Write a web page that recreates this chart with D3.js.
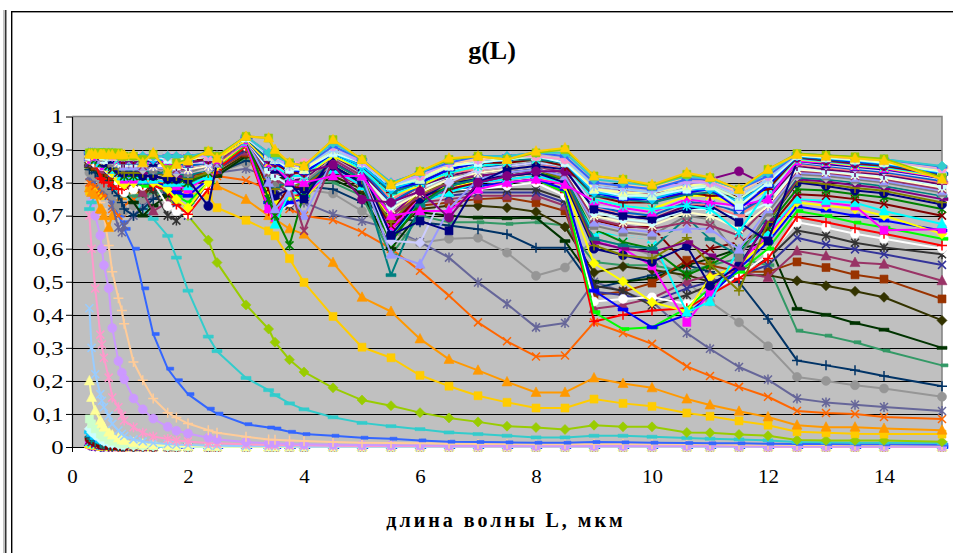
<!DOCTYPE html>
<html>
<head>
<meta charset="utf-8">
<script src="https://cdn.jsdelivr.net/npm/d3@7"></script>
<style>
  html, body { margin: 0; padding: 0; background: #fff; }
  svg { display: block; }
  text { font-family: "Liberation Serif", "Times New Roman", serif; fill: #000; }
</style>
</head>
<body>
<svg id="chart" width="953" height="553"></svg>
<script>
// Wavelengths, µm (shared by every curve)
const wavelength = [0.3,0.337,0.4,0.488,0.515,0.55,0.633,0.694,0.8,0.86,0.9,
  1.06,1.22,1.4,1.65,1.8,2.0,2.35,2.5,
  3.0,3.39,3.5,3.75,4.0,4.5,5.0,5.5,
  6.0,6.5,7.0,7.5,8.0,8.5,9.0,9.5,
  10.0,10.6,11.0,11.5,12.0,12.5,13.0,13.5,14.0,15.0];

// Asymmetry parameter g ×100 for each droplet size, smallest droplets first
const s01 = [0.5,0.3,0.2,0.1,0.1,0.1,0,0,0,0,0, 0,0,0,0,0,0,0,0, 0,0,0,0,0,0,0,0, 0,0,0,0,0,0,0,0, 0,0,0,0,0,0,0,0,0,0];
const s02 = [0.8,0.5,0.3,0.2,0.2,0.1,0.1,0.1,0,0,0, 0,0,0,0,0,0,0,0, 0,0,0,0,0,0,0,0, 0,0,0,0,0,0,0,0, 0,0,0,0,0,0,0,0,0,0];
const s03 = [1,0.7,0.5,0.3,0.2,0.2,0.1,0.1,0.1,0,0, 0,0,0,0,0,0,0,0, 0,0,0,0,0,0,0,0, 0,0,0,0,0,0,0,0, 0,0,0,0,0,0,0,0,0,0];
const s04 = [1.5,1,0.7,0.4,0.4,0.3,0.2,0.2,0.1,0.1,0.1, 0,0,0,0,0,0,0,0, 0,0,0,0,0,0,0,0, 0,0,0,0,0,0,0,0, 0,0,0,0,0,0,0,0,0,0];
const s05 = [2,1.5,1,0.6,0.5,0.4,0.3,0.2,0.2,0.1,0.1, 0.1,0,0,0,0,0,0,0, 0,0,0,0,0,0,0,0, 0,0,0,0,0,0,0,0, 0,0,0,0,0,0,0,0,0,0];
const s06 = [2.5,2,1.4,0.8,0.7,0.6,0.4,0.3,0.2,0.2,0.2, 0.1,0.1,0,0,0,0,0,0, 0,0,0,0,0,0,0,0, 0,0,0,0,0,0,0,0, 0,0,0,0,0,0,0,0,0,0];
const s07 = [3,2.4,1.7,1.1,1,0.8,0.6,0.4,0.3,0.2,0.2, 0.1,0.1,0.1,0,0,0,0,0, 0,0,0,0,0,0,0,0, 0,0,0,0,0,0,0,0, 0,0,0,0,0,0,0,0,0,0];
const s08 = [3.5,3,2.2,1.4,1.2,1,0.7,0.5,0.4,0.3,0.3, 0.2,0.1,0.1,0.1,0,0,0,0, 0,0,0,0,0,0,0,0, 0,0,0,0,0,0,0,0, 0,0,0,0,0,0,0,0,0,0];
const s09 = [4.5,3.6,2.7,1.8,1.6,1.3,0.9,0.7,0.5,0.4,0.4, 0.2,0.2,0.1,0.1,0.1,0.1,0,0, 0,0,0,0,0,0,0,0, 0,0,0,0,0,0,0,0, 0,0,0,0,0,0,0,0,0,0];
const s10 = [5.5,4.5,3.5,2.4,2.1,1.7,1.2,1,0.7,0.6,0.5, 0.3,0.2,0.2,0.1,0.1,0.1,0.1,0, 0,0,0,0,0,0,0,0, 0,0,0,0,0,0,0,0, 0,0,0,0,0,0,0,0,0,0];
const s11 = [8.5,7,5.5,4,3.6,3,2.2,1.7,1.2,1,0.9, 0.6,0.4,0.3,0.2,0.1,0.1,0.1,0.1, 0,0,0,0,0,0,0,0, 0,0,0,0,0,0,0,0, 0,0,0,0,0,0,0,0,0,0];
const s12 = [20,15,11,8,7,6,4.5,3.6,2.7,2.2,2, 1.3,0.9,0.7,0.5,0.4,0.3,0.2,0.2, 0.1,0.1,0.1,0.1,0.1,0,0,0, 0,0,0,0,0,0,0,0, 0,0,0,0,0,0,0,0,0,0];
const s13 = [42,30,22,16,14,12,9.5,7,5,4,3.3, 2.3,1.7,1.2,0.9,0.7,0.6,0.4,0.4, 0.2,0.2,0.2,0.2,0.1,0.1,0.1,0.1, 0.1,0.1,0.1,0.1,0.1,0.1,0.1,0.1, 0.1,0.1,0.1,0.1,0,0,0,0,0,0];
const s14 = [70,60,48,34,31,27,21,15,12,9.5,8, 6,4.3,3.2,2.4,2,1.7,1.2,1.1, 0.8,0.6,0.6,0.5,0.5,0.4,0.3,0.3, 0.3,0.2,0.2,0.2,0.2,0.2,0.2,0.2, 0.2,0.2,0.2,0.2,0.1,0.1,0.1,0.1,0.1,0.1];
const s15 = [77,74,70,64,60,55,48,36,26,22.5,20.5, 14.7,11.4,8.6,6.1,4.9,4.1,2.8,2.3, 1.5,1.1,1.1,0.9,0.8,0.7,0.6,0.5, 0.5,0.4,0.4,0.4,0.3,0.3,0.3,0.3, 0.3,0.3,0.3,0.2,0.2,0.2,0.2,0.2,0.2,0.2];
const s16 = [80,79,77,74,72,70,61,53,45,41.3,37.3, 25.7,20.2,14.7,10.4,8.9,7.1,5.1,4.3, 3.1,2.3,2.2,2,1.8,1.5,1.3,1.2, 1.1,1,0.9,0.9,0.8,0.8,0.9,0.9, 0.8,0.8,0.8,0.7,0.7,0.6,0.6,0.6,0.6,0.5];
const s17 = [80,81,81,80,79,78,77,74.4,70,68,66, 60,48,34.2,23.7,20.2,16,11.6,10.1, 6.9,5.9,5.6,4.6,3.9,3.4,2.8,2.5, 2,1.6,1.5,1.4,1.3,1.3,1.5,1.4, 1.3,1.2,1.1,1.1,1,0.9,0.9,0.8,0.8,0.7];
const s18 = [72,74,76,78,77,78,79,78,77,76,76, 75,72.4,69,63.9,57.3,47.3,33.4,29, 20.9,17.2,15.7,13.2,11.4,9,7.3,6.3, 5.4,4.4,3.9,3.4,2.9,2.9,3.4,3.4, 3.1,2.7,2.5,2.3,2,1.5,1.4,1.3,1.3,1.2];
const s19 = [84,84,83,82,82,81,80,80,81,82,81, 80,79,77,75,73,70,62.6,55.8, 43,35.7,31.7,26.4,22.7,17.9,14.2,12.5, 10.4,8.8,7.6,6.3,5.9,5.3,6.6,6.1, 6.1,4.4,4.3,3.8,3.4,2.1,2,2,2,1.6];
const s20 = [77.4,78,77,76,77,78,79,80,81,81,82, 81,80,80,79,78,77,76,72.4, 68.6,65.4,63.9,57,49.8,39.5,30.2,27, 21.7,18.4,15.5,13.5,11.8,11.8,14.5,13.2, 12.3,10.3,9.3,7.9,6.6,4.6,4.3,4,3.9,3.9];
const s21 = [78.4,77,76.4,72,71.9,70,66.4,70,74,76,77, 78,79,80,80,81,80,80,79, 74.9,70,69,66,64.4,55.8,45.3,41, 32.7,26.5,23.2,19.7,16.5,16.5,20.9,19.2, 17.9,14.5,12.7,10.8,9.1,6.6,6,6,5.6,5.1];
const s22 = [80,80,79,78,77,76,76.4,72,70,71,73, 75,77,79,80,81,81,81,82, 80.7,78,75,72,70,68.7,65,60, 53.3,45.8,37.7,32,27.4,27.7,37.7,34.5, 31.2,24.4,21.5,18.2,15.2,10.9,10.3,10,9.1,8.5];
const s23 = [82,82,81,80,79,78,76,73,66.4,65,67, 70,73,76,78,79,80,81,83, 84.2,82,79,76,74,70.4,68.4,66, 62,57.3,49.8,43.3,36.2,37.5,50,47, 44,34.5,29.7,24.2,20.4,14.7,13.5,12.8,12.1,10.9];
const s24 = [83,83,82,81,80,79,78,76,73,72,71.4, 73,75,77,79,80,81,82,83, 86,84,81,79,78,76.7,71.4,65, 61.8,63,63.3,58.8,51.8,54.3,63,61, 58,50,44,37.7,30.5,21.2,20,18.7,17.7,15.2];
const s25 = [84,84,83,82,82,81,80,78,76,74,72, 70,72,75,77,79,80,82,83, 86.7,85,83,80,79,78,74,70, 68,67,65.9,64.4,60.3,60.3,48,50, 52,55,53,50,38.7,26.2,24.7,23.2,21.5,18.4];
const s26 = [85,85,84,83,83,82,81,80,78,77,76, 76,76,77,78,79,80,82,83, 87.5,85,82,79,80,80,76,58, 70,68,68,67.5,68,67,56,55, 55,53,55,57,55,35.2,33.7,31.7,29.2,24.7];
const s27 = [85,85,84,84,83,83,82,81,79,78,77, 74,70,73,76,78,79,81,82, 88,86,83,80,80,81,77,60, 71,70,69.4,69.2,69.4,62.3,50,50, 51,55,57,60,62,41.8,40,37.5,35.5,30];
const s28 = [86,85,85,84,84,83,83,82,80,79,78, 78,77,78,79,80,81,82,83, 88.5,86,83,80,81,82,78,64, 72,73,73,72.4,71.2,66.6,52.8,54.6, 53.6,52,50,52,52,50.3,48.8,47.1,45.3,38.3];
const s29 = [86,86,85,85,84,84,83,82,81,80,79, 79,78,79,80,81,82,83,84, 89,86,82,79,81,83,79,66, 73,74,75,75.4,73.9,71.4,46,47, 49.6,56.5,55,53,53,56,54.3,52.1,50.8,44.8];
const s30 = [86,86,86,85,85,84,84,83,82,81,80, 79,77,71.4,74,76,79,82,84, 89.5,85,80,77,80,83,79,68, 74,75,76,76,76,73,41.8,43, 45,50,52,53,51.3,59.3,57.8,55.8,55.3,50.3];
const s31 = [86,86,86,85,85,85,84,83,82,81,80, 80,79,79,78,72,70,80,84, 90,85,78,74,78,83,80,70, 76,76,77,77,77,74,47,46, 44,48,50,52,55,63.3,61.3,59.8,58.3,55.1];
const s32 = [87,86,86,86,85,85,84,84,83,82,81, 80,79,78,70,68.5,72,80,85, 90.5,84,76,73,77,83,80,72, 77,77,78,78,78,75,48.8,47.3, 42.8,46,49,53,57,65.5,63.9,61.8,60.4,58.3];
const s33 = [87,87,86,86,85,85,84,83,80,78,77, 77.9,79,80.2,72.9,71.4,70.4,79,85, 91,72,70,74,76,84,81,75, 77,78,78,79,80,76,44,44.8, 45.3,43.3,47,52,58,68,66.4,64.5,63,60];
const s34 = [87,87,86,81.4,81,80,80,79,78,78,79, 80,79.4,79,77.6,73.4,70.4,78,84, 91,71.4,71,76,76,84,81,74, 78,78,79,80,81,77,38,40, 41.3,42,46,51,57,69.6,68,66.2,64.5,61];
const s35 = [87,87,87,86,85,85,85,84,82,81,80, 80,79,80,78,76,74,80,85, 91.5,73,70,75,76,84,81,70, 77,78,79,80,81,77,40.8,35.7, 36.2,42,48,53,60,71.4,69.9,67.9,66.4,63];
const s36 = [87,87,87,86,86,85,85,84,83,82,81, 80,80,80,79,77,76,81,85, 92,74,71,74,75,84,80,68, 76,78,79,80,81,78,47.3,41.6, 36.2,40,46,54,62,72.8,71.5,70,68.5,65.5];
const s37 = [87,87,87,86,86,85,84,83,81,80,79.4, 80,81,80,78,75,72.4,80,85, 92,76.4,74,76,75,84,79,70, 77,79,80,81,82,79,55.6,50.1, 43.8,41,51.3,55,63,74,73,72,70,64.5];
const s38 = [88,87,87,86,86,85,85,84,83,82,81, 81,81,81,80,79,78,82,86, 92,72,69.4,78,76,84,79,66, 75,78,80,81,82,80,62.3,60, 54.8,37.7,46.8,56,64,75,73.9,72.9,65.6,65.9];
const s39 = [88,88,87,86,86,86,85,84,83,82,82, 82,81,81,80,80,79,82,86, 92.5,81.4,67.4,77,77,84,79,64, 74,77,80,81,82,80,64.9,64.1, 62.9,40.8,44,60,65,75,74.5,73.9,71.4,67.5];
const s40 = [88,88,87,87,86,86,85,84,83,83,82, 82,82,82,81,81,80,83,86, 93,78,72,79,78,85,80,67, 76,78,80,82,83,81,68.6,66.6, 66.6,55,60,62,66,76.5,76,75,73.5,70];
const s41 = [88,88,87,87,86,86,85,85,84,83,82, 82,82,82,81,81,80,83,86, 93,75,70,61,77,85,80,62, 74,79,81,82,83,81,66,62, 60,52,55,60,67,78,77.6,76.5,75.5,72];
const s42 = [88,88,88,87,87,86,86,85,84,83,83, 83,82,82,81,81,81,72.9,86, 93,80,76,78,78,85,80,64, 75,80,81,82,83,80,60,58, 56,60.8,48.8,55,68,80,79,77.6,76.8,73.4];
const s43 = [88,88,88,87,87,87,86,85,84,84,83, 83,83,83,82,82,81,83,86, 93,81,78,80,79,86,81,68, 77,80,82,83,84,81,61,58, 57,63.3,55.3,47.3,68,80.5,79.6,78.4,77.5,74];
const s44 = [88,88,88,87,87,87,86,86,85,84,84, 84,83,83,83,82,82,84,86, 93,82,79,81,80,86,82,70, 78,81,82,83,84,82,62,60, 59,62,58,54,69,81,80.3,79.2,78.3,75];
const s45 = [88,88,88,88,87,87,87,86,85,85,84, 84,84,83,83,83,82,84,86, 93,82,79,80,80,86,81,52, 73,79,81,83,84,82,63,61, 60,69.4,62.9,58,70,81.5,81,80,79,76];
const s46 = [88,88,88,88,87,87,87,86,86,85,85, 85,84,84,84,83,83,84,86, 93,83,80,81,81,87,82,72, 78,81,83,84,85,83,66,64, 63,66,65,62,70,82,81.5,80.5,79.5,76.5];
const s47 = [88,88,88,88,87,87,87,86,86,85,85, 85,85,84,84,84,83,85,86, 93,83,80,80,80,87,82,73, 78,82,83,84,85,83,67,65, 64,70,68.9,57.3,71,82.5,82,81,80,77];
const s48 = [88,88,88,88,87,87,87,87,86,86,85, 85,85,85,84,84,84,85,86, 93,80,72,77,70,87,82,58.3, 55.3,72,81,83,84,82,68,66, 65,66,66,59.8,72,83,82.5,81.5,80.5,77.5];
const s49 = [88,88,88,88,88,87,87,87,86,86,86, 86,85,85,85,84,84,85,86, 93,83,81,79,65.4,87,82,70, 76,80,83,84,85,83,69,67, 66,68,67,64,73,83.5,83,82,81,78];
const s50 = [88,88,88,88,88,87,87,87,86,86,86, 86,86,85,85,85,84,85,87, 93,84,82,82,81,88,83,72, 77,81,83,84,85,84,70,68, 67,71,70,66,73,84,83.3,82.4,81.5,78.5];
const s51 = [88,88,88,88,88,87,87,87,87,86,86, 86,86,86,85,85,85,86,87, 93,84,82,79,81,88,83,73, 78,82,84,85,86,84,71,69, 68,72,72,69.4,74,84.5,83.6,82.8,82,79];
const s52 = [89,88,88,88,88,88,87,87,87,86,86, 86,86,86,86,85,85,86,87, 93,85,83,81,81,88,83,74, 79,82,84,85,86,84,72,70, 69,73,73,72.5,75,85,84,83.2,82.4,79.5];
const s53 = [89,88,88,88,88,88,87,87,87,87,86, 86,86,86,86,85,85,86,87, 93,85,83,82,82,88,84,75, 79,83,84,85,86,84,72,71, 70,74,73,70,76,85.5,84.6,83.6,82.8,80];
const s54 = [89,88,88,88,88,88,88,87,87,87,86, 86,86,86,86,86,85,86,87, 93,85,84,82,82,88,84,74, 79,83,85,85,86,85,73,71, 70,74,74,71,76,86,85,84,83.2,80.5];
const s55 = [89,89,88,88,88,88,88,87,87,87,87, 87,86,86,86,86,86,86,87, 93,86,84,81,82,88,84,62.3, 61.8,80,84,85,86,85,73,72, 71,75,74,72,77,86.3,85.3,84.4,83.6,81];
const s56 = [89,89,88,88,88,88,88,87,87,87,87, 87,87,86,86,86,86,87,87, 93,86,84,80,75,88,84,64, 68.4,65.4,80,84,85,84,72,70, 69,72,73,68,62.3,86.5,85.6,84.8,84,81.3];
const s57 = [89,89,88,88,88,88,88,88,87,87,87, 87,87,87,86,86,86,87,87, 93,86,85,80.4,80,82,82,70, 71.4,71.4,78,80,81,79.4,74.4,72.3, 71,75,74,73,75,86.5,86,85,84.3,81.5];
const s58 = [89,89,88,88,88,88,88,88,87,87,87, 87,87,87,87,86,86,87,87, 93,86,85,82,82,88,84,76, 79,83,85,86,87,85,75,73, 72,76,76,73,78,87,86.2,85.2,84.5,81.7];
const s59 = [89,89,89,88,88,88,88,88,87,87,87, 87,87,87,87,86,86,87,88, 93.5,87,85,82,82,89,84,76, 80,83,85,86,87,85,75,73, 72,73,72,65,78,87.2,86.4,85.5,84.7,82];
const s60 = [89,89,89,88,88,88,88,88,88,87,87, 87,87,87,87,87,86,87,88, 93.5,87,86,83,83,85.4,74.9,74, 77.4,69.4,80,82,83.4,83.4,78.9,78, 76.4,79,81,83.4,79,87.5,86.6,85.7,85,82.2];
const s61 = [89,89,89,88,88,88,88,88,88,87,87, 87,87,87,87,87,87,87,88, 93.5,87,86,83,83,89,85,77, 80,84,86,86,87,85,76,74, 74,77,76,76,78,87.7,86.8,86,85.2,82.4];
const s62 = [89,89,89,89,88,88,88,88,88,88,87, 87,87,87,87,87,87,88,88, 93.5,87,86,84,83,89,85,77, 80,84,86,87,87,86,76,75, 74,76.4,77,75,79,87.8,87,86.2,85.4,82.6];
const s63 = [89,89,89,89,88,88,88,88,88,88,88, 88,87,87,87,87,87,88,88, 93.5,88,86,84,83,89,85,78, 80,84,86,87,88,86,77,75, 75,77,78,72,79,88,87.2,86.4,85.6,82.8];
const s64 = [89,89,89,89,89,88,88,88,88,88,88, 88,88,87,87,87,87,88,88, 93.5,88,87,84,84,89,85,78, 81,85,86,87,88,86,77,76, 75,78,78,74,80,88,87.4,86.6,85.8,83];
const s65 = [89,89,89,89,89,88,88,88,88,88,88, 88,88,88,87,87,87,88,88, 93.5,88,87,84,84,89,86,79, 81,85,86,87,88,86,78,76, 76,78,79,73,80,88.2,87.5,86.8,86,83.3];
const s66 = [89,89,89,89,89,88,88,88,88,88,88, 88,88,88,88,87,87,88,88, 94,88,87,85,84,90,86,79, 81,85,87,87,88,87,78,77, 76,79,79,75,81,88.3,87.6,87,86.2,83.5];
const s67 = [89,89,89,89,89,89,88,88,88,88,88, 88,88,88,88,88,87,88,88, 94,88,87,85,84,90,86,79, 82,85,87,88,88,87,78,77, 77,79,80,76,81,88.4,87.8,87.1,86.4,83.7];
const s68 = [89,89,89,89,89,89,88,88,88,88,88, 88,88,88,88,88,88,88,88, 94,88,87,85,85,90,86,79, 82,86,87,88,88,87,79,78, 77,80,80,76,81,88.5,87.9,87.3,86.6,84];
const s69 = [89,89,89,89,89,89,89,88,88,88,88, 88,88,88,88,88,88,88,88, 94,89,88,86,86,91,86.5,80, 82,86,87,88,88,87,81,80, 79,81,80,78,82,88.6,88,87.4,86.7,84.2];
const s70 = [89,89,89,89,89,89,89,88,88,88,88, 88,88,88,88,88,88,88,88, 94,89,88,85,85,91,86,80, 82,86,87,88,89,88,80,79, 78,80,80,77,82,88.6,88,87.4,86.8,84.4];
const s71 = [89,89,89,89,89,89,89,89,88,88,88, 88,88,88,88,88,88,89,88, 94,89,88,86,85,91,87,80, 83,86,87,88,89,88,80,79, 79,81,81,77,82,88.6,88.1,87.5,86.9,84.6];
const s72 = [89,89,89,89,89,89,89,89,88,88,88, 88,88,88,88,88,88,89,88, 94,89,88,86,85,91,87,80, 83,86,88,88,89,88,80,79, 78,81,81,78,82,88.7,88.2,87.6,87,84.8];
const s73 = [89,89,89,89,89,89,89,89,88,88,88, 88,88,88,88,88,88,89,88, 94,89,88,86,85,92,87,80, 83,87,88,88,89,89,81,80, 79,82,81,78,83,88.7,88.2,87.7,87.1,85];
const s74 = [89,89,89,89,89,89,89,89,89,88,88, 88,87,88.5,84,86,87,89.5,88, 94,93.5,89,86,85,93,87,79.4, 83.4,87,88,87,89,90,82,81, 79,82.5,81.5,78,84,88.8,88.3,87.8,87.2,81.5];
const s75 = [88.6,88.6,88.6,88.5,88.5,88.5,88.4,88.4,88.4,88.4,88.4, 88.6,86,89,83,85.5,86.5,89.5,87.4, 94,93.5,90,86,85,93,87,79.4, 83.4,87.4,88,87,89.5,90.5,82,81, 79.4,83,81.6,78,84,88.5,88,87.4,86.7,81];

const series = [s01,s02,s03,s04,s05,s06,s07,s08,s09,s10,s11,s12,s13,s14,s15,
  s16,s17,s18,s19,s20,s21,s22,s23,s24,s25,s26,s27,s28,s29,s30,
  s31,s32,s33,s34,s35,s36,s37,s38,s39,s40,s41,s42,s43,s44,s45,
  s46,s47,s48,s49,s50,s51,s52,s53,s54,s55,s56,s57,s58,s59,s60,
  s61,s62,s63,s64,s65,s66,s67,s68,s69,s70,s71,s72,s73,s74,s75];

const xTicks = [0,2,4,6,8,10,12,14];
const yTicks = [0,0.1,0.2,0.3,0.4,0.5,0.6,0.7,0.8,0.9,1];
const chartTitle = "g(L)";
const xAxisTitle = "длина волны L, мкм";

// Classic 56-colour spreadsheet palette
const palette = ["#000000","#FFFFFF","#FF0000","#00FF00","#0000FF","#FFFF00","#FF00FF","#00FFFF",
  "#800000","#008000","#000080","#808000","#800080","#008080","#C0C0C0","#808080",
  "#9999FF","#993366","#FFFFCC","#CCFFFF","#660066","#FF8080","#0066CC","#CCCCFF",
  "#000080","#FF00FF","#FFFF00","#00FFFF","#800080","#800000","#008080","#0000FF",
  "#00CCFF","#CCFFFF","#CCFFCC","#FFFF99","#99CCFF","#FF99CC","#CC99FF","#FFCC99",
  "#3366FF","#33CCCC","#99CC00","#FFCC00","#FF9900","#FF6600","#666699","#969696",
  "#003366","#339966","#003300","#333300","#993300","#993366","#333399","#333333"];
// series n (1-based): first 32 take palette slots 25..56, the rest continue from slot 2
function seriesColor(n) { return n <= 32 ? palette[23 + n] : palette[n - 32]; }

const markerKinds = ["diamond","square","triangle","x","star","circle","plus","dash","longdash"];
const strokeOnly = new Set(["x","star","plus"]);
function markerPath(kind) {
  switch (kind) {
    case "diamond":  return "M0,-5L5,0L0,5L-5,0Z";
    case "square":   return "M-4,-4H4V4H-4Z";
    case "triangle": return "M0,-5.5L5,4L-5,4Z";
    case "x":        return "M-4,-4L4,4M-4,4L4,-4";
    case "star":     return "M-4,-4L4,4M-4,4L4,-4M0,-5V5";
    case "circle":   return "M4.5,0A4.5,4.5 0 1,1 -4.5,0A4.5,4.5 0 1,1 4.5,0Z";
    case "plus":     return "M-5,0H5M0,-5V5";
    case "dash":     return "M-1,-1.5H6V1.5H-1Z";
    case "longdash": return "M-5,-1.5H5V1.5H-5Z";
  }
}

const svg = d3.select("#chart");
const W = 953, H = 553;
const plot = { left: 72, right: 942, top: 116.5, bottom: 447 };

const x = d3.scaleLinear().domain([0, 15]).range([plot.left, plot.right]);
const y = d3.scaleLinear().domain([0, 1]).range([plot.bottom, plot.top]);

// sheet edge and chart frame
svg.append("line").attr("x1", 4).attr("x2", 4).attr("y1", 10).attr("y2", H)
  .attr("stroke", "#888").attr("stroke-width", 1);
svg.append("line").attr("x1", 5.8).attr("x2", 5.8).attr("y1", 10).attr("y2", H)
  .attr("stroke", "#000").attr("stroke-width", 1.2);
svg.append("rect").attr("x", 11.7).attr("y", 11.7).attr("width", W + 20).attr("height", H + 20)
  .attr("fill", "#fff").attr("stroke", "#000").attr("stroke-width", 1.4);

// plot area
svg.append("rect").attr("x", plot.left).attr("y", plot.top)
  .attr("width", plot.right - plot.left).attr("height", plot.bottom - plot.top)
  .attr("fill", "#C0C0C0");

// horizontal gridlines
svg.append("g").selectAll("line").data(yTicks.filter(v => v > 0 && v < 1)).join("line")
  .attr("x1", plot.left).attr("x2", plot.right)
  .attr("y1", d => Math.round(y(d)) + 0.5).attr("y2", d => Math.round(y(d)) + 0.5)
  .attr("stroke", "#000").attr("stroke-width", 1);

// plot border (top and right)
svg.append("path")
  .attr("d", `M${plot.left},${plot.top}H${plot.right}V${plot.bottom}`)
  .attr("fill", "none").attr("stroke", "#808080").attr("stroke-width", 1.5);

// axes
const fmt = d => d3.format(".1~f")(d).replace(".", ",");
const yAxis = svg.append("g").attr("transform", `translate(${plot.left},0)`)
  .call(d3.axisLeft(y).tickValues(yTicks).tickSize(6).tickSizeOuter(0).tickFormat(fmt));
const xAxis = svg.append("g").attr("transform", `translate(0,${plot.bottom})`)
  .call(d3.axisBottom(x).tickValues(xTicks).tickSize(5).tickSizeOuter(0).tickFormat(d3.format("d")));

[yAxis, xAxis].forEach(a => {
  a.select(".domain").attr("stroke", "#000").attr("stroke-width", 1.2);
  a.selectAll(".tick line").attr("stroke", "#000").attr("stroke-width", 1);
  a.selectAll("text").attr("fill", "#000")
    .style("font-family", '"Liberation Serif","Times New Roman",serif');
});
yAxis.selectAll("text").style("font-size", "19px")
  .attr("x", null).attr("dy", null)
  .attr("transform", "translate(-8.5,6.3) scale(1.3,1)");
xAxis.selectAll("text").style("font-size", "19px")
  .attr("y", null).attr("dy", null)
  .attr("transform", "translate(0,36) scale(1.1,1)");

// curves
const line = d3.line().x(d => x(d[0])).y(d => y(d[1]));
const curves = svg.append("g");
series.forEach((vals, i) => {
  const n = i + 1;
  const color = seriesColor(n);
  const kind = markerKinds[(n - 1) % 9];
  const pts = wavelength.map((w, j) => [w, vals[j] / 100]);
  const g = curves.append("g");
  g.append("path").attr("d", line(pts))
    .attr("fill", "none").attr("stroke", color).attr("stroke-width", 2)
    .attr("stroke-linejoin", "round");
  g.selectAll("path.m").data(pts).join("path").attr("class", "m")
    .attr("transform", d => `translate(${x(d[0])},${y(d[1])})`)
    .attr("d", markerPath(kind))
    .attr("fill", strokeOnly.has(kind) ? "none" : color)
    .attr("stroke", color)
    .attr("stroke-width", strokeOnly.has(kind) ? 1.5 : 0.6);
});

// titles
svg.append("text").attr("x", 492).attr("y", 59).attr("text-anchor", "middle")
  .style("font-size", "26px").style("font-weight", "bold").text(chartTitle);
svg.append("text").attr("x", 506).attr("y", 527).attr("text-anchor", "middle")
  .style("font-size", "20px").style("font-weight", "bold").style("letter-spacing", "3px")
  .text(xAxisTitle);
</script>
</body>
</html>
